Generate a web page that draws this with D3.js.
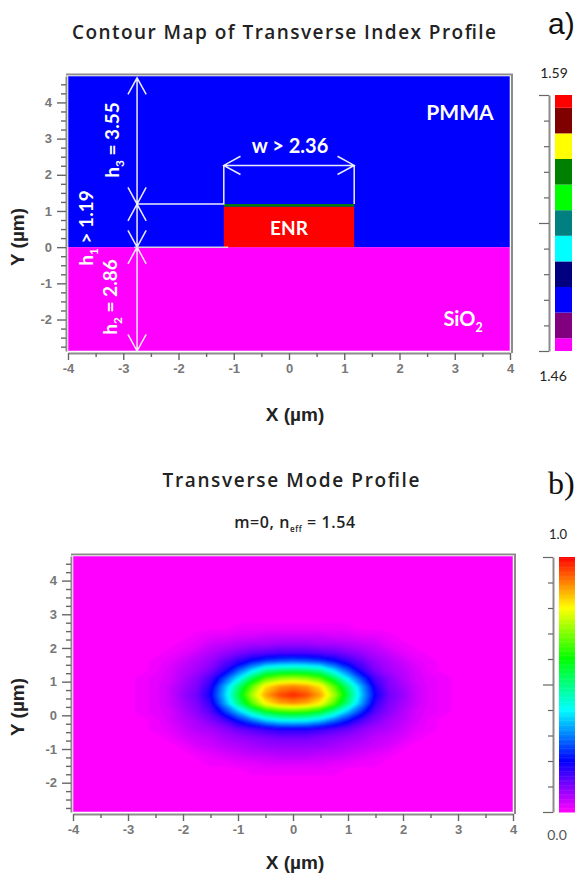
<!DOCTYPE html>
<html><head><meta charset="utf-8">
<script src="https://cdn.jsdelivr.net/npm/d3@7"></script>
<style>html,body{margin:0;background:#fff}svg{display:block}text{font-family:"Liberation Sans",Arial,sans-serif}</style>
</head><body><svg id="c" width="575" height="879"></svg>
<script>
// ---- data ----
const xTickValues=[-4,-3,-2,-1,0,1,2,3,4];
const xMinorValues=[-3.5,-2.5,-1.5,-0.5,0.5,1.5,2.5,3.5];
const yTickValues=[-2,-1,0,1,2,3,4];
const yMinorValues=[-2.75,-2.5,-2.25,-1.75,-1.5,-1.25,-0.75,-0.5,-0.25,0.25,0.5,0.75,1.25,1.5,1.75,2.25,2.5,2.75,3.25,3.5,3.75,4.25,4.5];
const xDomain=[-4,4];
const yDomain=[-2.87,4.73];
// index profile
const layerNames=["PMMA","SiO2","ENR","skin"];
const layerX0=[-4,-4,-1.18,-1.18];
const layerX1=[4,4,1.18,1.18];
const layerY0=[0,-2.87,0,1.12];
const layerY1=[4.73,0,1.12,1.19];
const layerIndex=[1.486,1.46,1.59,1.551];
const indexBandColors=["#ff00ff","#800080","#0000ff","#000080","#00ffff","#008080","#00ff00","#008000","#ffff00","#800000","#ff0000"];
const indexTicks=[1.46,1.473,1.486,1.499,1.512,1.525,1.538,1.551,1.564,1.577,1.59];
// dimension arrows [x1,y1,x2,y2] in microns
const arrowX1=[-2.75,-2.75,-2.75,-1.18];
const arrowY1=[4.68,1.19,0,2.26];
const arrowX2=[-2.75,-2.75,-2.75,1.18];
const arrowY2=[1.19,0,-2.87,2.26];
// mode profile, percent of peak, read on a regular grid
const modeX=[-3,-2.75,-2.5,-2.25,-2,-1.75,-1.5,-1.25,-1,-0.75,-0.5,-0.25,0,0.25,0.5,0.75,1,1.25,1.5,1.75,2,2.25,2.5,2.75,3];
const modeY=[3.1,2.85,2.6,2.35,2.1,1.85,1.6,1.35,1.1,0.85,0.6,0.35,0.1,-0.15,-0.4,-0.65,-0.9,-1.15,-1.4,-1.65,-1.9];
const modeValues=[
[0,0,0,0,0,0,0,0,0,0,0,0,0,0,0,0,0,0,0,0,0,0,0,0,0],
[0,0,0,0,0,0,0,0,0,0,0,0,0,0,0,0,0,0,0,0,0,0,0,0,0],
[0,0,0,0,0,0,0,0,1,1,1,1,1,1,1,1,1,0,0,0,0,0,0,0,0],
[0,0,0,0,0,1,2,2,3,3,4,4,4,4,4,3,3,2,2,1,0,0,0,0,0],
[0,0,0,0,1,2,4,5,6,7,7,8,8,8,7,7,6,5,4,2,1,0,0,0,0],
[0,0,0,1,2,4,6,8,10,12,13,14,14,14,13,12,10,8,6,4,2,1,0,0,0],
[0,0,1,2,4,6,8,12,16,21,25,27,28,27,25,21,16,12,8,6,4,2,1,0,0],
[0,0,1,3,5,7,10,16,26,36,46,49,50,49,46,36,26,16,10,7,5,3,1,0,0],
[0,1,2,3,6,9,14,25,38,53,65,70,72,70,65,53,38,25,14,9,6,3,2,1,0],
[0,1,2,4,7,10,17,33,50,67,82,88,90,88,82,67,50,33,17,10,7,4,2,1,0],
[0,1,2,4,8,11,19,35,54,73,87,94,97,94,87,73,54,35,19,11,8,4,2,1,0],
[0,1,2,4,7,10,16,32,49,66,80,86,88,86,80,66,49,32,16,10,7,4,2,1,0],
[0,1,2,3,6,9,13,23,34,46,56,61,63,61,56,46,34,23,13,9,6,3,2,1,0],
[0,0,1,3,5,7,10,14,21,28,35,39,40,39,35,28,21,14,10,7,5,3,1,0,0],
[0,0,1,2,4,6,7,9,12,14,16,18,18,18,16,14,12,9,7,6,4,2,1,0,0],
[0,0,0,1,3,4,5,7,8,9,10,11,11,11,10,9,8,7,5,4,3,1,0,0,0],
[0,0,0,0,1,3,4,5,6,7,8,8,8,8,8,7,6,5,4,3,1,0,0,0,0],
[0,0,0,0,0,1,2,3,4,5,5,6,6,6,5,5,4,3,2,1,0,0,0,0,0],
[0,0,0,0,0,0,1,1,2,2,3,3,3,3,3,2,2,1,1,0,0,0,0,0,0],
[0,0,0,0,0,0,0,0,0,1,1,1,1,1,1,1,0,0,0,0,0,0,0,0,0],
[0,0,0,0,0,0,0,0,0,0,0,0,0,0,0,0,0,0,0,0,0,0,0,0,0]];
const modeStops=[0,20,40,60,80,100];
const modeColors=["#ff00ff","#0000ff","#00ffff","#00ff00","#ffff00","#ff0000"];
const modeBarTicks=[0,10,20,30,40,50,60,70,80,90,100];

// ---- drawing ----
const svg=d3.select("#c");
const defs=svg.append("defs");
defs.append("filter").attr("id","soft").attr("x","-5%").attr("y","-5%").attr("width","110%").attr("height","110%")
  .append("feGaussianBlur").attr("stdDeviation",1.2);
const GRAY="#8c8c8c", LABEL="#777";
const hy=s=>String(s);

function frame(p){
  const x=d3.scaleLinear(xDomain,[p.l,p.r]);
  const y=d3.scaleLinear(yDomain,[p.b,p.t]);
  return {x,y};
}
function axes(p,x,y){
  const g=svg.append("g");
  const ax=(sel,off)=>{sel.selectAll(".domain").attr("stroke",GRAY).attr("stroke-width",2);sel.selectAll(".tick line").attr("stroke","#666").attr("stroke-width",1.4);sel.selectAll("text").attr("fill",LABEL).attr("font-size",13).attr("font-weight","bold");};
  const gx=g.append("g").attr("transform",`translate(0,${p.b+2})`).call(d3.axisBottom(x).tickValues(xTickValues).tickSizeInner(7).tickSizeOuter(0).tickPadding(4).tickFormat(hy));
  ax(gx);
  const gxm=g.append("g").attr("transform",`translate(0,${p.b+2})`).call(d3.axisBottom(x).tickValues(xMinorValues).tickSizeInner(4).tickSizeOuter(0).tickFormat(""));
  ax(gxm);gxm.select(".domain").remove();
  const gy=g.append("g").attr("transform",`translate(${p.l-2},0)`).call(d3.axisLeft(y).tickValues(yTickValues).tickSizeInner(9).tickSizeOuter(0).tickPadding(5).tickFormat(hy));
  ax(gy);
  const gym=g.append("g").attr("transform",`translate(${p.l-2},0)`).call(d3.axisLeft(y).tickValues(yMinorValues).tickSizeInner(5).tickSizeOuter(0).tickFormat(""));
  ax(gym);gym.select(".domain").remove();
  g.append("path").attr("d",`M${p.l-2},${p.t-1.5}H${p.r+2}V${p.b+2}`).attr("fill","none").attr("stroke",GRAY).attr("stroke-width",2);
  svg.append("rect").attr("x",p.l).attr("y",p.t).attr("width",p.r-p.l).attr("height",p.b-p.t).attr("fill","none").attr("stroke","#fff").attr("stroke-opacity",.55).attr("stroke-width",1);
}
function txt(x,y,s,o={}){
  const t=svg.append("text").attr("x",x).attr("y",y).attr("text-anchor",o.anchor||"middle")
    .attr("font-size",o.size||14).attr("font-weight",o.weight||"bold").attr("fill",o.fill||"#222");
  if(o.family)t.style("font-family",o.family);
  if(o.spacing)t.attr("letter-spacing",o.spacing);
  if(o.rot!=null)t.attr("transform",`rotate(${o.rot} ${x} ${y})`);
  if(o.sub){t.append("tspan").text(s);t.append("tspan").attr("dy",o.size*0.28).attr("font-size",o.size*(o.subScale||0.62)).text(o.sub);
    t.append("tspan").attr("dy",-o.size*0.28).text(o.after||"");}
  else t.text(s);
  return t;
}
const TF='"Open Sans",sans-serif', CF='Lato,sans-serif';

// Panel a
const pa={l:68,r:510,t:76,b:351};
const A=frame(pa);
const layers=d3.range(layerNames.length).map(i=>i);
const indexColor=d3.scaleThreshold().domain(indexTicks.slice(0,-1).map(v=>v+0.0065)).range(indexBandColors);
svg.append("g").selectAll("rect").data(layers).join("rect")
  .attr("x",i=>A.x(layerX0[i])).attr("width",i=>A.x(layerX1[i])-A.x(layerX0[i]))
  .attr("y",i=>A.y(layerY1[i])).attr("height",i=>A.y(layerY0[i])-A.y(layerY1[i]))
  .attr("fill",i=>indexColor(layerIndex[i]));
axes(pa,A.x,A.y);
// dimension lines
const dim=svg.append("g").attr("fill","none").attr("stroke","#fff").attr("stroke-width",1.5).attr("stroke-opacity",.92);
d3.range(arrowX1.length).forEach(i=>{
  const a=[A.x(arrowX1[i]),A.y(arrowY1[i])],b=[A.x(arrowX2[i]),A.y(arrowY2[i])];
  const ang=Math.atan2(b[1]-a[1],b[0]-a[0]);
  const head=(p,t)=>{const L=19,W=0.5;return `M${p[0]+L*Math.cos(t+W)},${p[1]+L*Math.sin(t+W)}L${p[0]},${p[1]}L${p[0]+L*Math.cos(t-W)},${p[1]+L*Math.sin(t-W)}`;};
  dim.append("path").attr("d",`M${a}L${b}`+head(a,ang)+head(b,ang+Math.PI));
});
dim.append("path").attr("d",`M${A.x(-2.75)},${A.y(1.19)}H${A.x(-1.18)}V${A.y(2.26)}`);
dim.append("path").attr("d",`M${A.x(1.18)},${A.y(1.19)}V${A.y(2.26)}`);
dim.append("path").attr("d",`M${A.x(-2.8)},${A.y(0)}H${A.x(-1.1)}`).attr("stroke","#ddd");
const W="#fff";
txt(290,153,"w > 2.36",{size:20,fill:W,family:CF});
txt(460,120,"PMMA",{size:21,fill:W,family:CF});
txt(289,235,"ENR",{size:19,fill:W,family:CF});
txt(463,326,"SiO",{size:20,fill:W,family:CF,sub:"2"});
txt(119,140,"h",{size:19,fill:W,family:CF,rot:-90,sub:"3",after:" = 3.55"});
txt(93,228,"h",{size:19,fill:W,family:CF,rot:-90,sub:"1",after:" > 1.19"});
txt(117,297,"h",{size:19,fill:W,family:CF,rot:-90,sub:"2",after:" = 2.86"});
txt(284,39,"Contour Map of Transverse Index Profile",{size:19,weight:600,family:TF}).attr("textLength",424).attr("lengthAdjust","spacing");
txt(24,237,"Y (µm)",{size:19,rot:-90});
txt(295,421,"X (µm)",{size:19});
txt(548,34,"a)",{size:30,weight:"normal",anchor:"start",fill:"#111"});
// colour bar a
const ca={x:555,w:17,t:95,b:351};
const barA=d3.scaleLinear([indexTicks[0],indexTicks[10]],[ca.b,ca.t]);
const half=(ca.b-ca.t)/20;
svg.append("g").selectAll("rect").data(indexTicks).join("rect")
  .attr("x",ca.x).attr("width",ca.w)
  .attr("y",d=>Math.max(ca.t,barA(d)-half)).attr("height",(d,i)=>(i==0||i==10)?half:half*2)
  .attr("fill",(d,i)=>indexBandColors[i]);
function barAxis(scale,x,values,major){
  const g=svg.append("g").attr("transform",`translate(${x},0)`).call(d3.axisLeft(scale).tickValues(values).tickSizeOuter(0).tickFormat(""));
  g.select(".domain").attr("stroke",GRAY).attr("stroke-width",2);
  g.selectAll(".tick line").attr("x2",(d,i)=>major.includes(i)?-10:-5).attr("stroke","#666").attr("stroke-width",1.2);
}
barAxis(barA,549,indexTicks,[0,5,10]);
txt(554,78,"1.59",{size:14,weight:"normal",fill:"#222",family:CF});
txt(553,381,"1.46",{size:14,weight:"normal",fill:"#222",family:CF});

// Panel b
const pb={l:73,r:513,t:556,b:812};
const B=frame({...pb});
const modeColor=d3.scaleLinear(modeStops,modeColors);
svg.append("clipPath").attr("id","cb").append("rect").attr("x",pb.l).attr("y",pb.t).attr("width",pb.r-pb.l).attr("height",pb.b-pb.t);
const fieldG=svg.append("g").attr("clip-path","url(#cb)");
fieldG.append("rect").attr("x",pb.l).attr("y",pb.t).attr("width",pb.r-pb.l).attr("height",pb.b-pb.t).attr("fill",modeColor(0));
const nx=modeX.length,ny=modeY.length;
const gx=d3.scaleLinear([0.5,nx-0.5],[modeX[0],modeX[nx-1]]);
const gy=d3.scaleLinear([0.5,ny-0.5],[modeY[0],modeY[ny-1]]);
const contourGen=d3.contours().size([nx,ny]).smooth(true).thresholds(d3.range(0.5,100,1));
const path=d3.geoPath(d3.geoTransform({point(px,py){this.stream.point(B.x(gx(px)),B.y(gy(py)));}}));
fieldG.append("g").attr("filter","url(#soft)").selectAll("path").data(contourGen(modeValues.flat())).join("path")
  .attr("d",path).attr("fill",d=>modeColor(d.value+0.5)).attr("stroke",d=>modeColor(d.value+0.5)).attr("stroke-width",.4);
axes(pb,B.x,B.y);
txt(291,487,"Transverse Mode Profile",{size:19,weight:600,family:TF}).attr("textLength",257).attr("lengthAdjust","spacing");
txt(295,528,"m=0, n",{size:16,weight:600,family:TF,sub:"eff",subScale:.5,after:" = 1.54"}).attr("letter-spacing",.6);
txt(24,707,"Y (µm)",{size:19,rot:-90});
txt(295,869,"X (µm)",{size:19});
txt(548,494,"b)",{size:32,weight:"normal",anchor:"start",fill:"#111",family:'"Liberation Serif",serif'});
// colour bar b
const cb={x:559,w:16,t:557,b:812};
const barB=d3.scaleLinear([0,100],[cb.b,cb.t]);
svg.append("g").selectAll("rect").data(d3.range(0,100,0.5)).join("rect")
  .attr("x",cb.x).attr("width",cb.w).attr("y",d=>barB(d+0.5)).attr("height",d=>barB(d)-barB(d+0.5)+.5).attr("fill",d=>modeColor(d));
barAxis(barB,553,modeBarTicks,[0,5,10]);
txt(558,539,"1.0",{size:13,weight:"normal",fill:"#222",family:CF});
txt(557,840,"0.0",{size:14,weight:"normal",fill:"#555",family:CF});
</script></body></html>
